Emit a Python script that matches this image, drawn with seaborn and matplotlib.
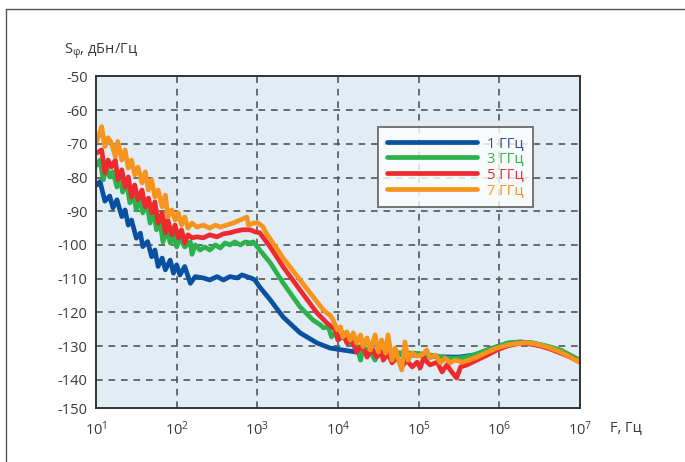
import numpy as np
import pandas as pd
import matplotlib
matplotlib.use("Agg")
import matplotlib.pyplot as plt
from matplotlib.lines import Line2D
import seaborn as sns

# ---------------- data (log10 of frequency in Hz, phase noise in dBc/Hz) -------------
series_names = ["1 ГГц", "3 ГГц", "5 ГГц", "7 ГГц"]

lf_1 = [1.01, 1.05, 1.11, 1.17, 1.21, 1.26, 1.32, 1.36, 1.40, 1.44, 1.50, 1.55, 1.58, 1.64,
        1.69, 1.73, 1.77, 1.82, 1.86, 1.92, 1.96, 2.00, 2.04, 2.10, 2.17, 2.23, 2.33, 2.41,
        2.50, 2.58, 2.66, 2.75, 2.81, 2.87, 2.93, 2.97, 3.03, 3.16, 3.32, 3.53, 3.74, 3.90,
        4.06, 4.23, 4.40, 4.56, 4.80, 5.00, 5.25, 5.50, 5.70, 5.85, 5.97, 6.10, 6.26, 6.40,
        6.55, 6.70, 6.85, 7.00]
db_1 = [-82.2, -81.2, -87.0, -85.5, -89.0, -86.6, -91.6, -89.6, -94.1, -92.6, -98.0, -96.5,
        -100.5, -99.0, -103.5, -101.5, -106.4, -103.9, -107.4, -104.5, -108.4, -105.9, -108.9,
        -106.4, -111.4, -109.4, -109.8, -110.4, -109.4, -110.4, -109.4, -109.8, -108.9, -109.4,
        -109.9, -110.4, -112.5, -116.3, -121.4, -126.1, -129.1, -130.6, -131.2, -131.8, -132.1,
        -132.1, -132.5, -132.8, -133.2, -133.3, -132.6, -131.2, -130.2, -129.2, -128.8, -129.1,
        -129.9, -131.2, -132.9, -134.4]

lf_3 = [1.01, 1.05, 1.09, 1.13, 1.17, 1.21, 1.26, 1.30, 1.33, 1.38, 1.42, 1.46, 1.50, 1.55,
        1.58, 1.63, 1.67, 1.71, 1.75, 1.79, 1.83, 1.88, 1.92, 1.96, 2.00, 2.04, 2.10, 2.17,
        2.19, 2.23, 2.29, 2.35, 2.41, 2.48, 2.54, 2.60, 2.66, 2.72, 2.79, 2.85, 2.91, 2.95,
        3.03, 3.16, 3.32, 3.53, 3.69, 3.78, 3.82, 3.88, 3.92, 3.97, 4.00, 4.06, 4.15, 4.21,
        4.28, 4.31, 4.40, 4.46, 4.50, 4.56, 4.68, 4.81, 4.93, 5.06, 5.23, 5.35, 5.52, 5.68,
        5.85, 5.97, 6.10, 6.26, 6.42, 6.59, 6.76, 6.88, 7.00]
db_3 = [-76.3, -74.8, -80.7, -76.9, -79.8, -78.3, -82.8, -79.8, -84.3, -81.6, -87.5, -84.6,
        -89.6, -85.8, -90.5, -87.5, -93.5, -89.6, -95.5, -92.6, -99.1, -95.5, -99.4, -97.0,
        -100.6, -97.9, -100.6, -99.1, -102.8, -100.0, -101.5, -100.6, -101.5, -100.0, -100.9,
        -99.4, -100.0, -99.1, -100.0, -99.1, -99.4, -99.1, -101.5, -105.3, -111.3, -118.4,
        -122.3, -123.7, -124.6, -124.3, -127.3, -125.8, -128.2, -127.3, -129.1, -128.2,
        -134.2, -130.3, -131.8, -134.2, -131.2, -131.8, -131.8, -132.1, -132.1, -132.4,
        -133.0, -133.6, -133.6, -132.7, -131.2, -130.3, -129.1, -128.8, -129.1, -130.0,
        -131.2, -132.7, -134.2]

lf_5 = [1.01, 1.07, 1.11, 1.15, 1.19, 1.24, 1.27, 1.32, 1.36, 1.40, 1.44, 1.48, 1.52, 1.57,
        1.61, 1.65, 1.69, 1.73, 1.77, 1.82, 1.86, 1.89, 1.94, 1.98, 2.02, 2.06, 2.10, 2.14,
        2.19, 2.25, 2.33, 2.41, 2.50, 2.58, 2.66, 2.75, 2.82, 2.91, 2.97, 3.03, 3.16, 3.32,
        3.53, 3.74, 3.86, 3.97, 4.00, 4.06, 4.11, 4.17, 4.23, 4.30, 4.36, 4.42, 4.48, 4.54,
        4.56, 4.62, 4.67, 4.73, 4.79, 4.85, 4.92, 4.98, 5.02, 5.06, 5.14, 5.23, 5.29, 5.35,
        5.41, 5.47, 5.52, 5.60, 5.72, 5.85, 5.97, 6.10, 6.26, 6.38, 6.51, 6.63, 6.76, 6.88,
        7.00]
db_5 = [-72.7, -71.8, -78.6, -74.8, -76.9, -74.8, -80.7, -77.7, -82.8, -79.8, -85.8, -82.2,
        -86.6, -83.7, -88.7, -86.1, -90.5, -87.2, -93.5, -90.5, -96.4, -92.6, -97.0, -94.1,
        -97.9, -95.5, -99.4, -97.0, -97.9, -97.6, -97.9, -97.0, -97.6, -96.7, -96.4, -95.8,
        -95.5, -95.5, -96.1, -96.4, -100.6, -106.5, -113.4, -120.2, -123.1, -125.2, -128.2,
        -126.1, -129.1, -128.2, -131.8, -129.7, -133.3, -130.6, -133.3, -131.8, -134.2,
        -132.1, -135.0, -133.3, -136.2, -134.2, -136.2, -134.8, -136.5, -133.6, -135.6,
        -134.8, -137.7, -135.6, -137.7, -139.5, -136.2, -135.6, -134.2, -132.7, -131.2,
        -130.0, -129.1, -129.4, -130.0, -130.9, -132.1, -133.3, -134.8]

lf_7 = [1.01, 1.07, 1.11, 1.15, 1.19, 1.24, 1.27, 1.32, 1.36, 1.40, 1.44, 1.48, 1.52, 1.57,
        1.61, 1.65, 1.69, 1.73, 1.77, 1.82, 1.86, 1.89, 1.94, 1.98, 2.02, 2.06, 2.10, 2.14,
        2.19, 2.25, 2.33, 2.41, 2.48, 2.54, 2.62, 2.70, 2.79, 2.87, 2.89, 2.95, 3.01, 3.07,
        3.10, 3.32, 3.53, 3.74, 3.82, 3.86, 3.90, 3.94, 3.99, 4.03, 4.06, 4.11, 4.15, 4.19,
        4.23, 4.28, 4.31, 4.36, 4.40, 4.46, 4.50, 4.54, 4.59, 4.62, 4.67, 4.71, 4.75, 4.79,
        4.83, 4.87, 4.92, 4.98, 5.04, 5.10, 5.14, 5.21, 5.27, 5.33, 5.39, 5.45, 5.54, 5.62,
        5.72, 5.85, 5.97, 6.10, 6.26, 6.38, 6.51, 6.63, 6.76, 6.88, 7.00]
db_7 = [-69.3, -64.9, -70.8, -68.2, -69.7, -73.8, -69.3, -74.8, -71.8, -77.2, -74.8, -79.2,
        -76.9, -81.6, -78.3, -83.7, -80.7, -85.8, -83.7, -88.7, -85.2, -91.7, -89.6, -92.6,
        -90.5, -94.1, -91.7, -95.0, -93.5, -94.7, -94.1, -95.0, -94.1, -94.7, -94.1, -93.5,
        -92.6, -91.7, -94.1, -93.5, -93.5, -94.6, -96.1, -103.9, -110.4, -116.9, -119.3,
        -120.2, -120.8, -122.3, -125.2, -124.3, -127.3, -125.8, -128.2, -126.1, -129.1,
        -126.7, -130.3, -127.6, -131.2, -126.7, -131.8, -128.2, -132.1, -126.7, -134.2,
        -130.6, -134.2, -137.1, -128.8, -134.2, -132.1, -133.0, -132.7, -131.2, -133.6,
        -132.7, -135.0, -133.6, -135.0, -134.2, -134.8, -134.2, -133.3, -131.8, -130.6,
        -129.7, -129.1, -129.1, -129.7, -130.6, -131.8, -133.3, -134.8]

x_tick_exponents = [1, 2, 3, 4, 5, 6, 7]
y_tick_values = [-50, -60, -70, -80, -90, -100, -110, -120, -130, -140]
y_bottom_label = "-150"

# ---------------- styling ----------------
sns.set_theme(style="white")
plt.rcParams["font.family"] = ["Open Sans", "DejaVu Sans"]
plt.rcParams["mathtext.default"] = "regular"

colors = ["#0a50a1", "#2bb24c", "#ee2a2e", "#f7941e"]
text_colors = ["#3b4a9a", "#2bb24c", "#ee2a2e", "#f7941e"]
dark = "#3a3a3a"

frames = []
for name, lf, db in zip(series_names, [lf_1, lf_3, lf_5, lf_7], [db_1, db_3, db_5, db_7]):
    frames.append(pd.DataFrame({"F": np.power(10.0, lf), "S": db, "series": name}))
df = pd.concat(frames, ignore_index=True)

fig = plt.figure(figsize=(6.85, 4.62), dpi=100)
ax = fig.add_axes([96 / 685, 1 - 408 / 462, (580 - 96) / 685, (408 - 76.5) / 462])
ax.set_facecolor("#e1ecf4")

sns.lineplot(data=df, x="F", y="S", hue="series", palette=colors, hue_order=series_names,
             sort=False, estimator=None, linewidth=3.4, ax=ax, legend=False)

ax.set_xscale("log")
ax.set_xlim(10, 1e7)
y_bottom = -148.4
ax.set_ylim(y_bottom, -50)

ax.set_xticks([10.0 ** e for e in x_tick_exponents])
ax.set_xticklabels([r"$\mathregular{10^{%d}}$" % e for e in x_tick_exponents])
ax.minorticks_off()
ax.set_yticks(y_tick_values + [y_bottom])
ax.set_yticklabels([str(v) for v in y_tick_values] + [y_bottom_label])
ax.tick_params(axis="both", length=0, labelsize=10.5, colors=dark)
ax.tick_params(axis="x", pad=9)
ax.tick_params(axis="y", pad=6)
ax.set_xlabel("")
ax.set_ylabel("")

for e in x_tick_exponents[1:-1]:
    ax.axvline(10.0 ** e, color="#555555", lw=1.2, ls=(0, (4, 3.5)), zorder=0.5)
for v in y_tick_values[1:]:
    ax.axhline(v, color="#555555", lw=1.2, ls=(0, (4, 3.5)), zorder=0.5)

for s in ax.spines.values():
    s.set_color("#333333")
    s.set_linewidth(1.4)

# legend
handles = [Line2D([], [], color=c, lw=3.4) for c in colors]
leg = fig.legend(handles, series_names, loc="upper left",
                 bbox_to_anchor=(378 / 685, 1 - 127 / 462), frameon=True, fancybox=False,
                 fontsize=10.5, handlelength=6.2, handletextpad=0.7, labelspacing=0.05,
                 borderpad=0.6, borderaxespad=0)
leg.get_frame().set_edgecolor("#555555")
leg.get_frame().set_linewidth(1.4)
leg.get_frame().set_facecolor("white")
for t, c in zip(leg.get_texts(), text_colors):
    t.set_color(c)

# axis titles
fig.text(64 / 685, 1 - 51 / 462, "S$_{φ}$, дБн/Гц", fontsize=10.5, color=dark, va="center")
fig.text(610 / 685, 1 - 428 / 462, "F, Гц", fontsize=10.5, color=dark, va="center")

# outer frame
fig.add_artist(Line2D([6 / 685, 1.0], [1 - 9 / 462, 1 - 9 / 462], transform=fig.transFigure,
                      color="#555555", lw=1.0))
fig.add_artist(Line2D([6 / 685, 6 / 685], [0.0, 1 - 9 / 462], transform=fig.transFigure,
                      color="#555555", lw=1.0))

fig.savefig("out.png", dpi=100)
